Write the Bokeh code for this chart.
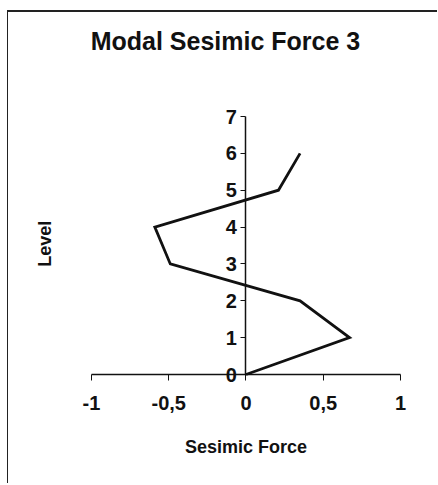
from bokeh.plotting import figure
from bokeh.models import Range1d, LinearAxis, FixedTicker, Label
from bokeh.embed import file_html
from bokeh.resources import INLINE

# Modal seismic force per storey level (mode 3)
levels = [0, 1, 2, 3, 4, 5, 6]
force = [0.0, 0.67, 0.35, -0.49, -0.59, 0.21, 0.35]

x_ticks = [-1, -0.5, 0, 0.5, 1]
x_tick_labels = ["-1", "-0,5", "0", "0,5", "1"]
y_ticks = [0, 1, 2, 3, 4, 5, 6, 7]

title_text = "Modal Sesimic Force 3"
x_title = "Sesimic Force"
y_title = "Level"

FONT = "Liberation Sans"
INK = "#111111"

# the plotting area spans the whole canvas; axes sit at the zero lines
p = figure(
    width=430, height=473,
    x_range=Range1d(-1.5372, 1.2460), y_range=Range1d(-3.0116, 9.8217),
    output_backend="svg", toolbar_location=None,
    x_axis_type=None, y_axis_type=None,
    min_border=0,
)
p.styles = {
    "margin-left": "7px", "margin-top": "10px",
    "border-top": "2px solid #222", "border-left": "1px solid #222",
}
p.outline_line_color = None
p.xgrid.visible = False
p.ygrid.visible = False
p.background_fill_color = "white"
p.border_fill_color = "white"

# horizontal axis along Level = 0
xa = LinearAxis(ticker=FixedTicker(ticks=x_ticks), fixed_location=0, bounds=(-1, 1))
xa.major_label_overrides = {t: s for t, s in zip(x_ticks, x_tick_labels)}
xa.axis_label = x_title
xa.axis_label_text_font = FONT
xa.axis_label_text_font_style = "bold"
xa.axis_label_text_font_size = "18px"
xa.axis_label_text_color = INK
xa.axis_label_standoff = 24
xa.major_label_text_font = FONT
xa.major_label_text_font_style = "bold"
xa.major_label_text_font_size = "20px"
xa.major_label_text_color = INK
xa.major_label_standoff = 15
xa.major_tick_out = 6
xa.major_tick_in = 0
xa.minor_tick_out = 0
xa.axis_line_width = 1.5
xa.axis_line_color = INK
xa.major_tick_line_color = INK
p.add_layout(xa, "below")

# vertical axis drawn through Force = 0
ya = LinearAxis(ticker=FixedTicker(ticks=y_ticks), fixed_location=0, bounds=(0, 7))
ya.major_label_text_font = FONT
ya.major_label_text_font_style = "bold"
ya.major_label_text_font_size = "20px"
ya.major_label_text_color = INK
ya.major_label_standoff = 4
ya.major_tick_out = 5
ya.major_tick_in = 0
ya.minor_tick_out = 0
ya.axis_line_width = 1.5
ya.axis_line_color = INK
ya.major_tick_line_color = INK
p.add_layout(ya, "left")

p.line(force, levels, line_color=INK, line_width=2.8, line_join="miter")

p.add_layout(Label(
    x=-0.133, y=9.06, text=title_text, text_align="center",
    text_baseline="alphabetic", text_font=FONT, text_font_style="bold",
    text_font_size="25px", text_color=INK,
))
p.add_layout(Label(
    x=-1.298, y=3.55, text=y_title, angle=1.5708, text_align="center",
    text_baseline="middle", text_font=FONT, text_font_style="bold",
    text_font_size="18px", text_color=INK,
))

open("out.html", "w").write(file_html(p, INLINE))
